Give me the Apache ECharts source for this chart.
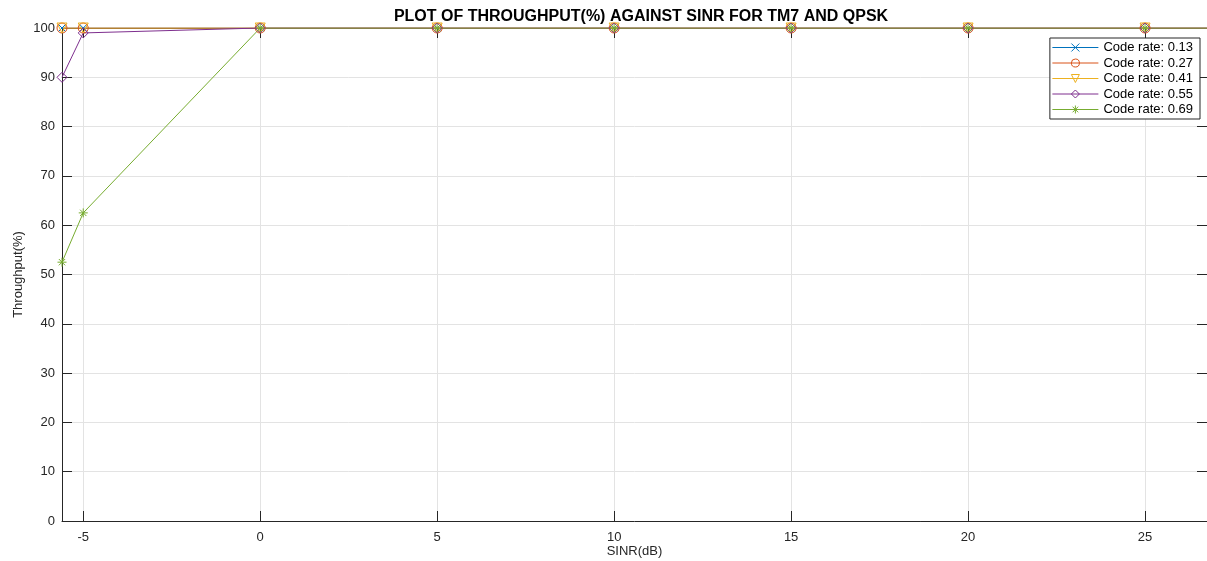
<!DOCTYPE html>
<html>
<head>
<meta charset="utf-8">
<script src="https://cdn.jsdelivr.net/npm/echarts@6/dist/echarts.min.js"></script>
<style>
  html, body { margin: 0; padding: 0; background: #fff; }
  #chart { width: 1207px; height: 561px; }
</style>
</head>
<body>
<div id="chart"></div>
<script>
// SINR (dB) values of the data points
const sinr = [-5.6, -5, 0, 5, 10, 15, 20, 25, 30];
// throughput (%) for each code rate
const cr013 = [100, 100, 100, 100, 100, 100, 100, 100, 100];
const cr027 = [100, 100, 100, 100, 100, 100, 100, 100, 100];
const cr041 = [100, 100, 100, 100, 100, 100, 100, 100, 100];
const cr055 = [90, 99, 100, 100, 100, 100, 100, 100, 100];
const cr069 = [52.5, 62.5, 100, 100, 100, 100, 100, 100, 100];
const seriesNames = ['Code rate: 0.13', 'Code rate: 0.27', 'Code rate: 0.41', 'Code rate: 0.55', 'Code rate: 0.69'];
const xTicks = [-5, 0, 5, 10, 15, 20, 25];

const colors = ['#0072BD', '#D95319', '#EDB120', '#7E2F8E', '#77AC30'];
// marker shapes like matlab: x, o, v, diamond, *
const symbols = [
    'path://M0,0L10,10M10,0L0,10',
    'path://M5,0A5,5 0 1 1 4.99,0Z',
    'path://M0,0L10,0L5,9Z',
    'path://M5,0L10,5L5,10L0,5Z',
    'path://M5,0L5,10M0,5L10,5M1.5,1.5L8.5,8.5M8.5,1.5L1.5,8.5'
];
const symbolSizes = [7, 10, 10, 10, 9];
const allData = [cr013, cr027, cr041, cr055, cr069];

const series = allData.map((vals, i) => ({
    name: seriesNames[i],
    type: 'line',
    data: sinr.map((x, j) => [x, vals[j]]),
    symbol: symbols[i],
    symbolSize: symbolSizes[i],
    showAllSymbol: true,
    clip: true,
    color: colors[i],
    lineStyle: { color: colors[i], width: 1 },
    itemStyle: { color: 'rgba(255,255,255,0)', borderColor: colors[i], borderWidth: 1 },
    emphasis: { disabled: true },
    animation: false
}));

// legend entries with their own colours so the icon line is not greyed
const legendData = seriesNames.map((name, i) => ({
    name: name,
    lineStyle: { color: colors[i], width: 1 },
    itemStyle: { color: 'rgba(255,255,255,0)', borderColor: colors[i], borderWidth: 1 }
}));

const chart = echarts.init(document.getElementById('chart'));
const fontFam = 'Liberation Sans, Arial, sans-serif';
const axisText = { color: '#262626', fontSize: 13, fontFamily: fontFam };
chart.setOption({
    backgroundColor: '#fff',
    animation: false,
    title: {
        text: 'PLOT OF THROUGHPUT(%) AGAINST SINR FOR TM7 AND QPSK',
        left: 636, top: 4, textAlign: 'center',
        textStyle: { fontSize: 16, fontWeight: 'bold', color: '#000', fontFamily: fontFam }
    },
    legend: {
        orient: 'vertical',
        right: 7, top: 38,
        itemWidth: 46, itemHeight: 10, itemGap: 2.5,
        padding: [3, 7, 3, 2],
        borderColor: '#262626', borderWidth: 1,
        backgroundColor: '#fff',
        textStyle: { color: '#000', fontSize: 13, fontFamily: fontFam },
        data: legendData
    },
    grid: { left: 62, right: 0, top: 28, bottom: 40, containLabel: false, outerBoundsMode: 'none' },
    xAxis: [{
        type: 'value', min: -5.6, max: 26.75,
        name: 'SINR(dB)', nameLocation: 'middle', nameGap: 24, nameMoveOverlap: false,
        nameTextStyle: axisText,
        axisLine: { onZero: false, lineStyle: { color: '#262626', width: 1 } },
        axisTick: { inside: true, length: 10, customValues: xTicks, lineStyle: { color: '#262626' } },
        axisLabel: { ...axisText, margin: 10, customValues: xTicks },
        splitLine: { show: true, lineStyle: { color: '#e3e3e3', width: 1 } }
    }, {
        type: 'value', min: -5.6, max: 26.75, position: 'top',
        axisLine: { onZero: false, lineStyle: { color: '#262626', width: 1 } },
        axisTick: { inside: true, length: 10, customValues: xTicks, lineStyle: { color: '#262626' } },
        axisLabel: { show: false },
        splitLine: { show: false }
    }],
    yAxis: [{
        type: 'value', min: 0, max: 100, interval: 10,
        name: 'Throughput(%)', nameLocation: 'middle', nameGap: 37, nameMoveOverlap: false,
        nameTextStyle: axisText,
        axisLine: { show: true, onZero: false, lineStyle: { color: '#262626', width: 1 } },
        axisTick: { show: true, inside: true, length: 10, lineStyle: { color: '#262626' } },
        axisLabel: { ...axisText, margin: 7 },
        splitLine: { show: true, lineStyle: { color: '#e3e3e3', width: 1 } }
    }, {
        type: 'value', min: 0, max: 100, interval: 10, position: 'right',
        axisLine: { show: true, onZero: false, lineStyle: { color: '#262626', width: 1 } },
        axisTick: { show: true, inside: true, length: 10, lineStyle: { color: '#262626' } },
        axisLabel: { show: false },
        splitLine: { show: false }
    }],
    series: series
});
</script>
</body>
</html>
